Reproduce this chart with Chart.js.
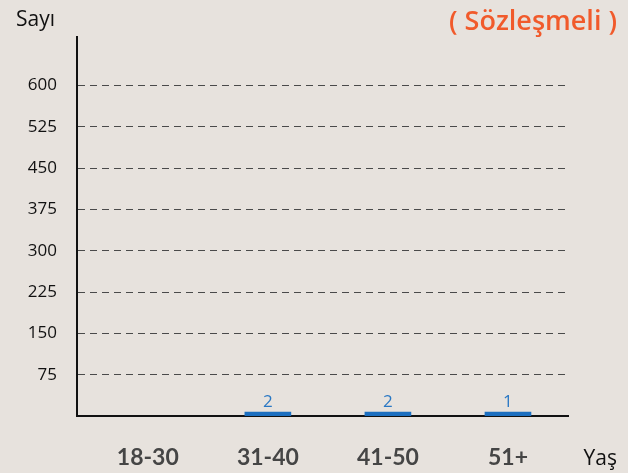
<!DOCTYPE html>
<html>
<head>
<meta charset="utf-8">
<script src="https://cdn.jsdelivr.net/npm/chart.js@4.4.0/dist/chart.umd.min.js"></script>
<style>
  html, body { margin: 0; padding: 0; background: #e7e2dd; }
  #wrap { width: 628px; height: 473px; }
</style>
</head>
<body>
<div id="wrap"><canvas id="ageChart" width="628" height="473"></canvas></div>
<script>
// data
const ageGroups = ['18-30', '31-40', '41-50', '51+'];
const counts = [0, 2, 2, 1];
const yTicks = [75, 150, 225, 300, 375, 450, 525, 600];

// backdrop + the loose texts round the plot
const decorPlugin = {
    id: 'decor',
    beforeDraw(chart) {
        const ctx = chart.ctx;
        ctx.save();
        ctx.fillStyle = '#e7e2dd';
        ctx.fillRect(0, 0, chart.width, chart.height);
        ctx.restore();
    },
    afterDraw(chart) {
        const ctx = chart.ctx;
        ctx.save();
        ctx.textBaseline = 'alphabetic';
        ctx.fillStyle = '#111';
        ctx.font = '21px "Open Sans"';
        ctx.textAlign = 'left';
        ctx.fillText('Sayı', 16, 26);
        ctx.textAlign = 'right';
        ctx.fillText('Yaş', 617, 465);
        ctx.fillStyle = '#f15a2b';
        ctx.font = '600 27px "Open Sans"';
        ctx.fillText('( Sözleşmeli )', 617, 30);
        ctx.restore();
    }
};

// numbers above the bars
const valueLabels = {
    id: 'valueLabels',
    afterDatasetsDraw(chart) {
        const ctx = chart.ctx;
        const meta = chart.getDatasetMeta(0);
        ctx.save();
        ctx.fillStyle = '#2a78c4';
        ctx.font = '17px "Open Sans"';
        ctx.textAlign = 'center';
        ctx.textBaseline = 'alphabetic';
        meta.data.forEach((bar, i) => {
            if (!counts[i]) return;
            ctx.fillText(String(counts[i]), bar.x, bar.y - 5);
        });
        ctx.restore();
    }
};

const ageCtx = document.getElementById('ageChart').getContext('2d');
const ageChart = new Chart(ageCtx, {
    type: 'bar',
    data: {
        datasets: [{
            data: counts.map((v, i) => ({ x: i, y: v })),
            backgroundColor: (c) => (c.raw && c.raw.y > 0) ? '#1c6fc0' : 'rgba(0,0,0,0)',
            barThickness: 46,
            minBarLength: 4,
            borderWidth: 0
        }]
    },
    options: {
        responsive: false,
        animation: false,
        layout: { padding: { top: 37, right: 60, left: 0, bottom: 0 } },
        plugins: {
            legend: { display: false },
            tooltip: { enabled: false }
        },
        scales: {
            x: {
                type: 'linear',
                offset: false,
                min: -0.59,
                max: 3.5,
                afterBuildTicks: (s) => { s.ticks = ageGroups.map((_, i) => ({ value: i })); },
                afterFit: (s) => { s.height = 57; },
                grid: { display: false, drawTicks: false },
                border: { display: true, color: '#111', width: 2 },
                ticks: {
                    padding: 28,
                    color: '#454545',
                    font: { family: 'Lato', weight: 'bold', size: 23 },
                    callback: (v) => ageGroups[v] ?? ''
                }
            },
            y: {
                min: 0,
                max: 688,
                afterBuildTicks: (s) => { s.ticks = yTicks.map(v => ({ value: v })); },
                afterFit: (s) => { s.width = 77; },
                grid: { color: '#4a4a4a', lineWidth: 1, drawTicks: false },
                border: { display: true, color: '#111', width: 2, dash: [7, 5] },
                ticks: {
                    padding: 20,
                    color: '#111',
                    font: { family: 'Open Sans', size: 17 }
                }
            }
        }
    },
    plugins: [decorPlugin, valueLabels]
});
</script>
</body>
</html>
